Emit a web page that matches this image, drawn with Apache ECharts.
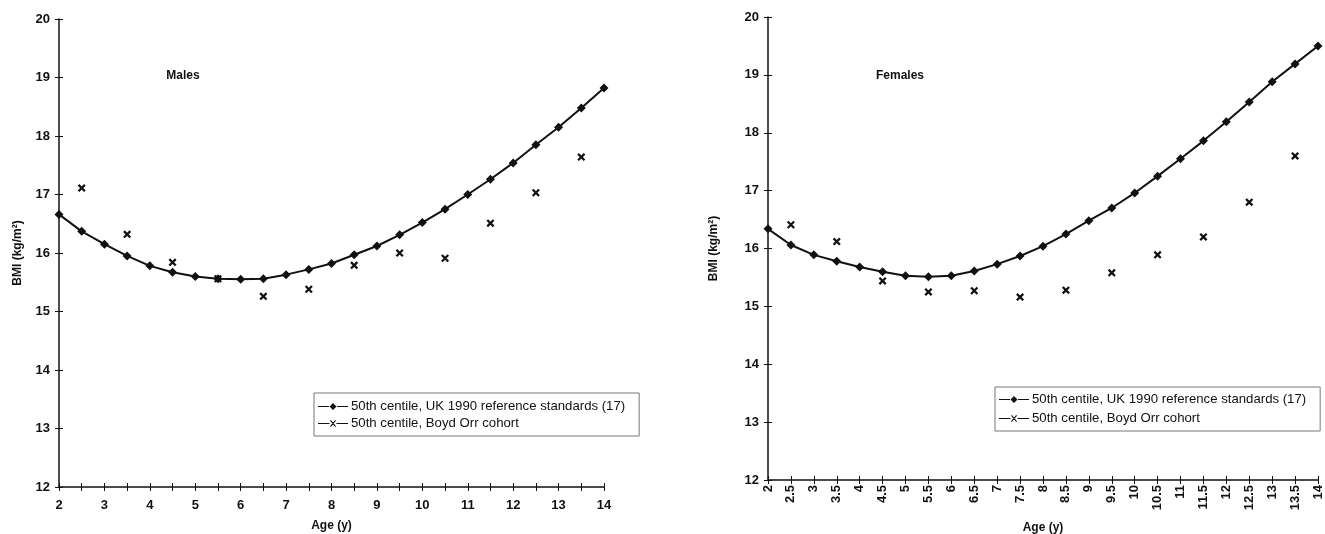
<!DOCTYPE html>
<html>
<head>
<meta charset="utf-8">
<script src="https://cdn.jsdelivr.net/npm/echarts@6/dist/echarts.min.js"></script>
<style>
html,body{margin:0;padding:0;background:#fff;}
#chart{width:1325px;height:534px;}
</style>
</head>
<body>
<div id="chart"></div>
<script>
// ---- data ----
const ukAges = [2,2.5,3,3.5,4,4.5,5,5.5,6,6.5,7,7.5,8,8.5,9,9.5,10,10.5,11,11.5,12,12.5,13,13.5,14];
const ukMales = [16.66,16.37,16.15,15.95,15.78,15.67,15.60,15.56,15.55,15.56,15.63,15.72,15.82,15.97,16.12,16.31,16.52,16.75,17.00,17.26,17.54,17.85,18.15,18.48,18.82];
const ukFemales = [16.34,16.06,15.89,15.78,15.68,15.60,15.53,15.51,15.53,15.61,15.73,15.87,16.04,16.25,16.48,16.70,16.96,17.25,17.55,17.86,18.19,18.53,18.88,19.19,19.50];
const boydAges = [2.5,3.5,4.5,5.5,6.5,7.5,8.5,9.5,10.5,11.5,12.5,13.5];
const boydMales = [17.11,16.32,15.84,15.56,15.26,15.38,15.79,16.00,15.91,16.51,17.03,17.64];
const boydFemales = [16.41,16.12,15.44,15.25,15.27,15.16,15.28,15.58,15.89,16.20,16.80,17.60];
const yTickLabels = ['12','13','14','15','16','17','18','19','20'];
const maleXTickLabels = ['2','3','4','5','6','7','8','9','10','11','12','13','14'];
const femaleXTickLabels = ['2','2.5','3','3.5','4','4.5','5','5.5','6','6.5','7','7.5','8','8.5','9','9.5','10','10.5','11','11.5','12','12.5','13','13.5','14'];
const panelTitles = ['Males','Females'];
const seriesNames = ['50th centile, UK 1990 reference standards (17)','50th centile, Boyd Orr cohort'];

// ---- styling ----
const FONT = "'Liberation Sans', Arial, sans-serif";
const INK = '#111';
const crossPath = 'path://M0,2L2,0L10,8L8,10Z M8,0L10,2L2,10L0,8Z';
const legendDiamondIcon = 'path://M0,3L11,3L11,4L0,4Z M19,3L30,3L30,4L19,4Z M15,0L18.5,3.5L15,7L11.5,3.5Z';
const legendCrossIcon = 'path://M0,3L11.5,3L11.5,4L0,4Z M18.5,3L30,3L30,4L18.5,4Z M12,0.8L12.8,0L18,6.2L17.2,7Z M17.2,0L18,0.8L12.8,7L12,6.2Z';

const zip = (xs, ys) => xs.map((x, i) => [x, ys[i]]);

function xAxes(gi, labels, rotate, nameGap, labelMargin) {
  return [
    {
      gridIndex: gi, type: 'value', min: 2, max: 14, interval: 0.5, position: 'bottom',
      axisLine: {show: true, onZero: false, lineStyle: {color: INK, width: 1.5}},
      axisTick: {show: true, length: 4, lineStyle: {color: INK, width: 1}},
      axisLabel: {
        color: INK, fontFamily: FONT, fontWeight: 'bold', fontSize: 13, rotate: rotate, margin: labelMargin,
        formatter: v => labels.includes(String(v)) ? String(v) : ''
      },
      splitLine: {show: false},
      name: 'Age (y)', nameLocation: 'middle', nameGap: nameGap,
      nameTextStyle: {color: INK, fontFamily: FONT, fontWeight: 'bold', fontSize: 12}
    },
    {
      gridIndex: gi, type: 'value', min: 2, max: 14, interval: 0.5, position: 'bottom',
      axisLine: {show: false, onZero: false},
      axisTick: {show: true, inside: true, length: 4, lineStyle: {color: INK, width: 1}},
      axisLabel: {show: false}, splitLine: {show: false}
    }
  ];
}
function yAxes(gi, nameGap) {
  return [
    {
      gridIndex: gi, type: 'value', min: 12, max: 20, interval: 1, position: 'left',
      axisLine: {show: true, onZero: false, lineStyle: {color: INK, width: 1.5}},
      axisTick: {show: true, length: 4, lineStyle: {color: INK, width: 1}},
      axisLabel: {
        color: INK, fontFamily: FONT, fontWeight: 'bold', fontSize: 13, margin: 9,
        formatter: v => yTickLabels.includes(String(v)) ? String(v) : ''
      },
      splitLine: {show: false},
      name: 'BMI (kg/m²)', nameLocation: 'middle', nameGap: nameGap, nameRotate: 90,
      nameTextStyle: {color: INK, fontFamily: FONT, fontWeight: 'bold', fontSize: 12}
    },
    {
      gridIndex: gi, type: 'value', min: 12, max: 20, interval: 1, position: 'left',
      axisLine: {show: false, onZero: false},
      axisTick: {show: true, inside: true, length: 4, lineStyle: {color: INK, width: 1}},
      axisLabel: {show: false}, splitLine: {show: false}
    }
  ];
}
function ukSeries(gi, vals) {
  return {
    name: seriesNames[0], type: 'line', xAxisIndex: gi * 2, yAxisIndex: gi * 2,
    data: zip(ukAges, vals), symbol: 'diamond', symbolSize: 9, showSymbol: true,
    lineStyle: {color: INK, width: 2}, itemStyle: {color: INK}, z: 3
  };
}
function boydSeries(gi, vals) {
  return {
    name: seriesNames[1], type: 'scatter', xAxisIndex: gi * 2, yAxisIndex: gi * 2,
    data: zip(boydAges, vals), symbol: crossPath, symbolSize: 8,
    itemStyle: {color: INK, opacity: 1}, z: 4
  };
}
function legend(left, top, gap, padTop) {
  return {
    left: left, top: top, orient: 'vertical', selectedMode: false,
    itemWidth: 30, itemHeight: 7, itemGap: gap, padding: [padTop, 14, 6, 4],
    borderColor: '#777', borderWidth: 1,
    textStyle: {color: INK, fontFamily: FONT, fontSize: 13.2, padding: [0, 0, 0, -2]},
    data: [
      {name: seriesNames[0], icon: legendDiamondIcon, itemStyle: {color: INK, borderWidth: 0}},
      {name: seriesNames[1], icon: legendCrossIcon, itemStyle: {color: INK, borderWidth: 0}}
    ]
  };
}

const chart = echarts.init(document.getElementById('chart'), null, {renderer: 'canvas'});
chart.setOption({
  backgroundColor: '#fff',
  animation: false,
  title: [
    {text: panelTitles[0], left: 183, top: 70, textAlign: 'center', padding: 0,
     textStyle: {color: INK, fontFamily: FONT, fontWeight: 'bold', fontSize: 12}},
    {text: panelTitles[1], left: 900, top: 70, textAlign: 'center', padding: 0,
     textStyle: {color: INK, fontFamily: FONT, fontWeight: 'bold', fontSize: 12}}
  ],
  grid: [
    {left: 59, right: 1325 - 604, top: 19, bottom: 534 - 487, outerBoundsMode: 'none', containLabel: false},
    {left: 768, right: 1325 - 1318, top: 17, bottom: 534 - 480, outerBoundsMode: 'none', containLabel: false}
  ],
  xAxis: [].concat(xAxes(0, maleXTickLabels, 0, 33, 12), xAxes(1, femaleXTickLabels, 90, 42, 5)),
  yAxis: [].concat(yAxes(0, 35), yAxes(1, 48)),
  legend: [legend(314, 393, 4, 7), legend(995, 387, 6, 6)],
  series: [
    ukSeries(0, ukMales), boydSeries(0, boydMales),
    ukSeries(1, ukFemales), boydSeries(1, boydFemales)
  ]
});
</script>
</body>
</html>
